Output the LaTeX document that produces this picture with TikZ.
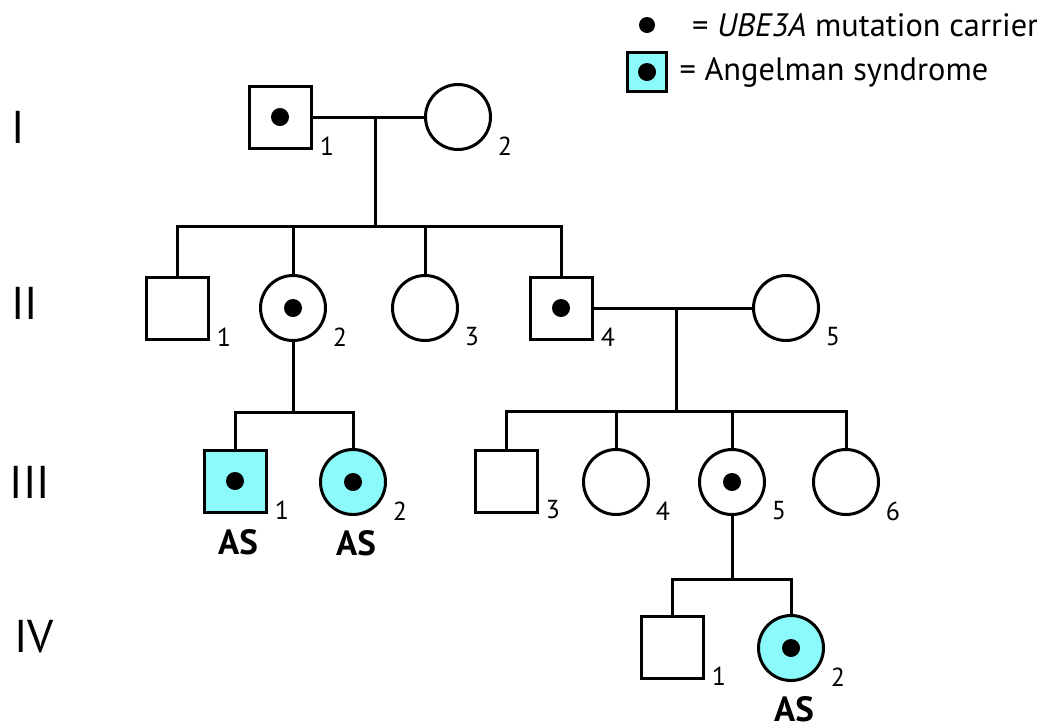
\documentclass[tikz,border=0pt]{standalone}
\usepackage{fontspec}
\setmainfont{PT Sans}
\usetikzlibrary{positioning}
\definecolor{asblue}{RGB}{140,250,250}
\tikzset{
  pedigree/.style={x=0.5pt,y=-0.5pt,line width=1.5pt},
  male/.style={draw,rectangle,minimum size=31pt,inner sep=0pt},
  female/.style={draw,circle,minimum size=32.5pt,inner sep=0pt},
  affected/.style={fill=asblue},
  carrier/.style={path picture={\fill[black] (path picture bounding box.center) circle (4.5pt);}},
  pnum/.style={font=\fontsize{13}{13}\selectfont,inner sep=0pt},
  idx/.style={label={[pnum,xshift=23.5pt,yshift=-14.5pt]center:#1}},
  asmark/.style={label={[font=\fontsize{17.5}{17.5}\selectfont\bfseries,inner sep=0pt,xshift=1.5pt,yshift=-30.5pt]center:AS}},
  gen/.style={font=\fontsize{23}{23}\selectfont,inner sep=0pt},
  keytext/.style={font=\fontsize{16.2}{16.2}\selectfont,inner sep=0pt,anchor=west}
}
\begin{document}
\begin{tikzpicture}[pedigree]
  \useasboundingbox (0,0) rectangle (1037,725);

  % generations
  \node[gen] (gI) at (18,127) {I};
  \node[gen] (gII) at (25,303) {II};
  \node[gen] (gIII) at (30,482) {III};
  \node[gen] (gIV) at (34,637) {IV};

  % legend
  \node[circle,fill,minimum size=8pt,inner sep=0pt] (kdot) at (647,25) {};
  \node[keytext,right=17pt of kdot] (kcarrier) {= \textit{UBE3A} mutation carrier};
  \node[male,affected,carrier,minimum size=19.5pt] (kas) at (647,72) {};
  \node[keytext,right=5pt of kas] (kangel) {= Angelman syndrome};

  % generation I
  \node[male,carrier,idx=1] (I1) at (280,117) {};
  \node[female,idx=2] (I2) at (458,117) {};
  \coordinate (c1) at (375,117);
  \coordinate (s1) at (375,226);

  % generation II
  \node[male,idx=1] (II1) at (177,308) {};
  \node[female,carrier,idx=2] (II2) at (293,308) {};
  \node[female,idx=3] (II3) at (425,308) {};
  \node[male,carrier,idx=4] (II4) at (561,308) {};
  \node[female,idx=5] (II5) at (786,308) {};
  \coordinate (c2) at (676,308);
  \coordinate (s2) at (676,411);
  \coordinate (s3) at (293,412);

  % generation III
  \node[male,affected,carrier,asmark,idx=1] (III1) at (235,481) {};
  \node[female,affected,carrier,asmark,idx=2] (III2) at (353,482) {};
  \node[male,idx=3] (III3) at (506,481) {};
  \node[female,idx=4] (III4) at (616,482) {};
  \node[female,carrier,idx=5] (III5) at (732,482) {};
  \node[female,idx=6] (III6) at (846,482) {};
  \coordinate (s4) at (732,579);

  % generation IV
  \node[male,idx=1] (IV1) at (672,647) {};
  \node[female,affected,carrier,asmark,idx=2] (IV2) at (791,648) {};

  % lines
  \draw (I1) -- (I2);
  \draw (c1) -- (s1);
  \draw (II1) |- (s1) -| (II4);
  \draw (II2) -- (II2 |- s1);
  \draw (II3) -- (II3 |- s1);

  \draw (II2) -- (s3);
  \draw (III1) |- (s3) -| (III2);

  \draw (II4) -- (II5);
  \draw (c2) -- (s2);
  \draw (III3) |- (s2) -| (III6);
  \draw (III4) -- (III4 |- s2);
  \draw (III5) -- (III5 |- s2);

  \draw (III5) -- (s4);
  \draw (IV1) |- (s4) -| (IV2);
\end{tikzpicture}
\end{document}
